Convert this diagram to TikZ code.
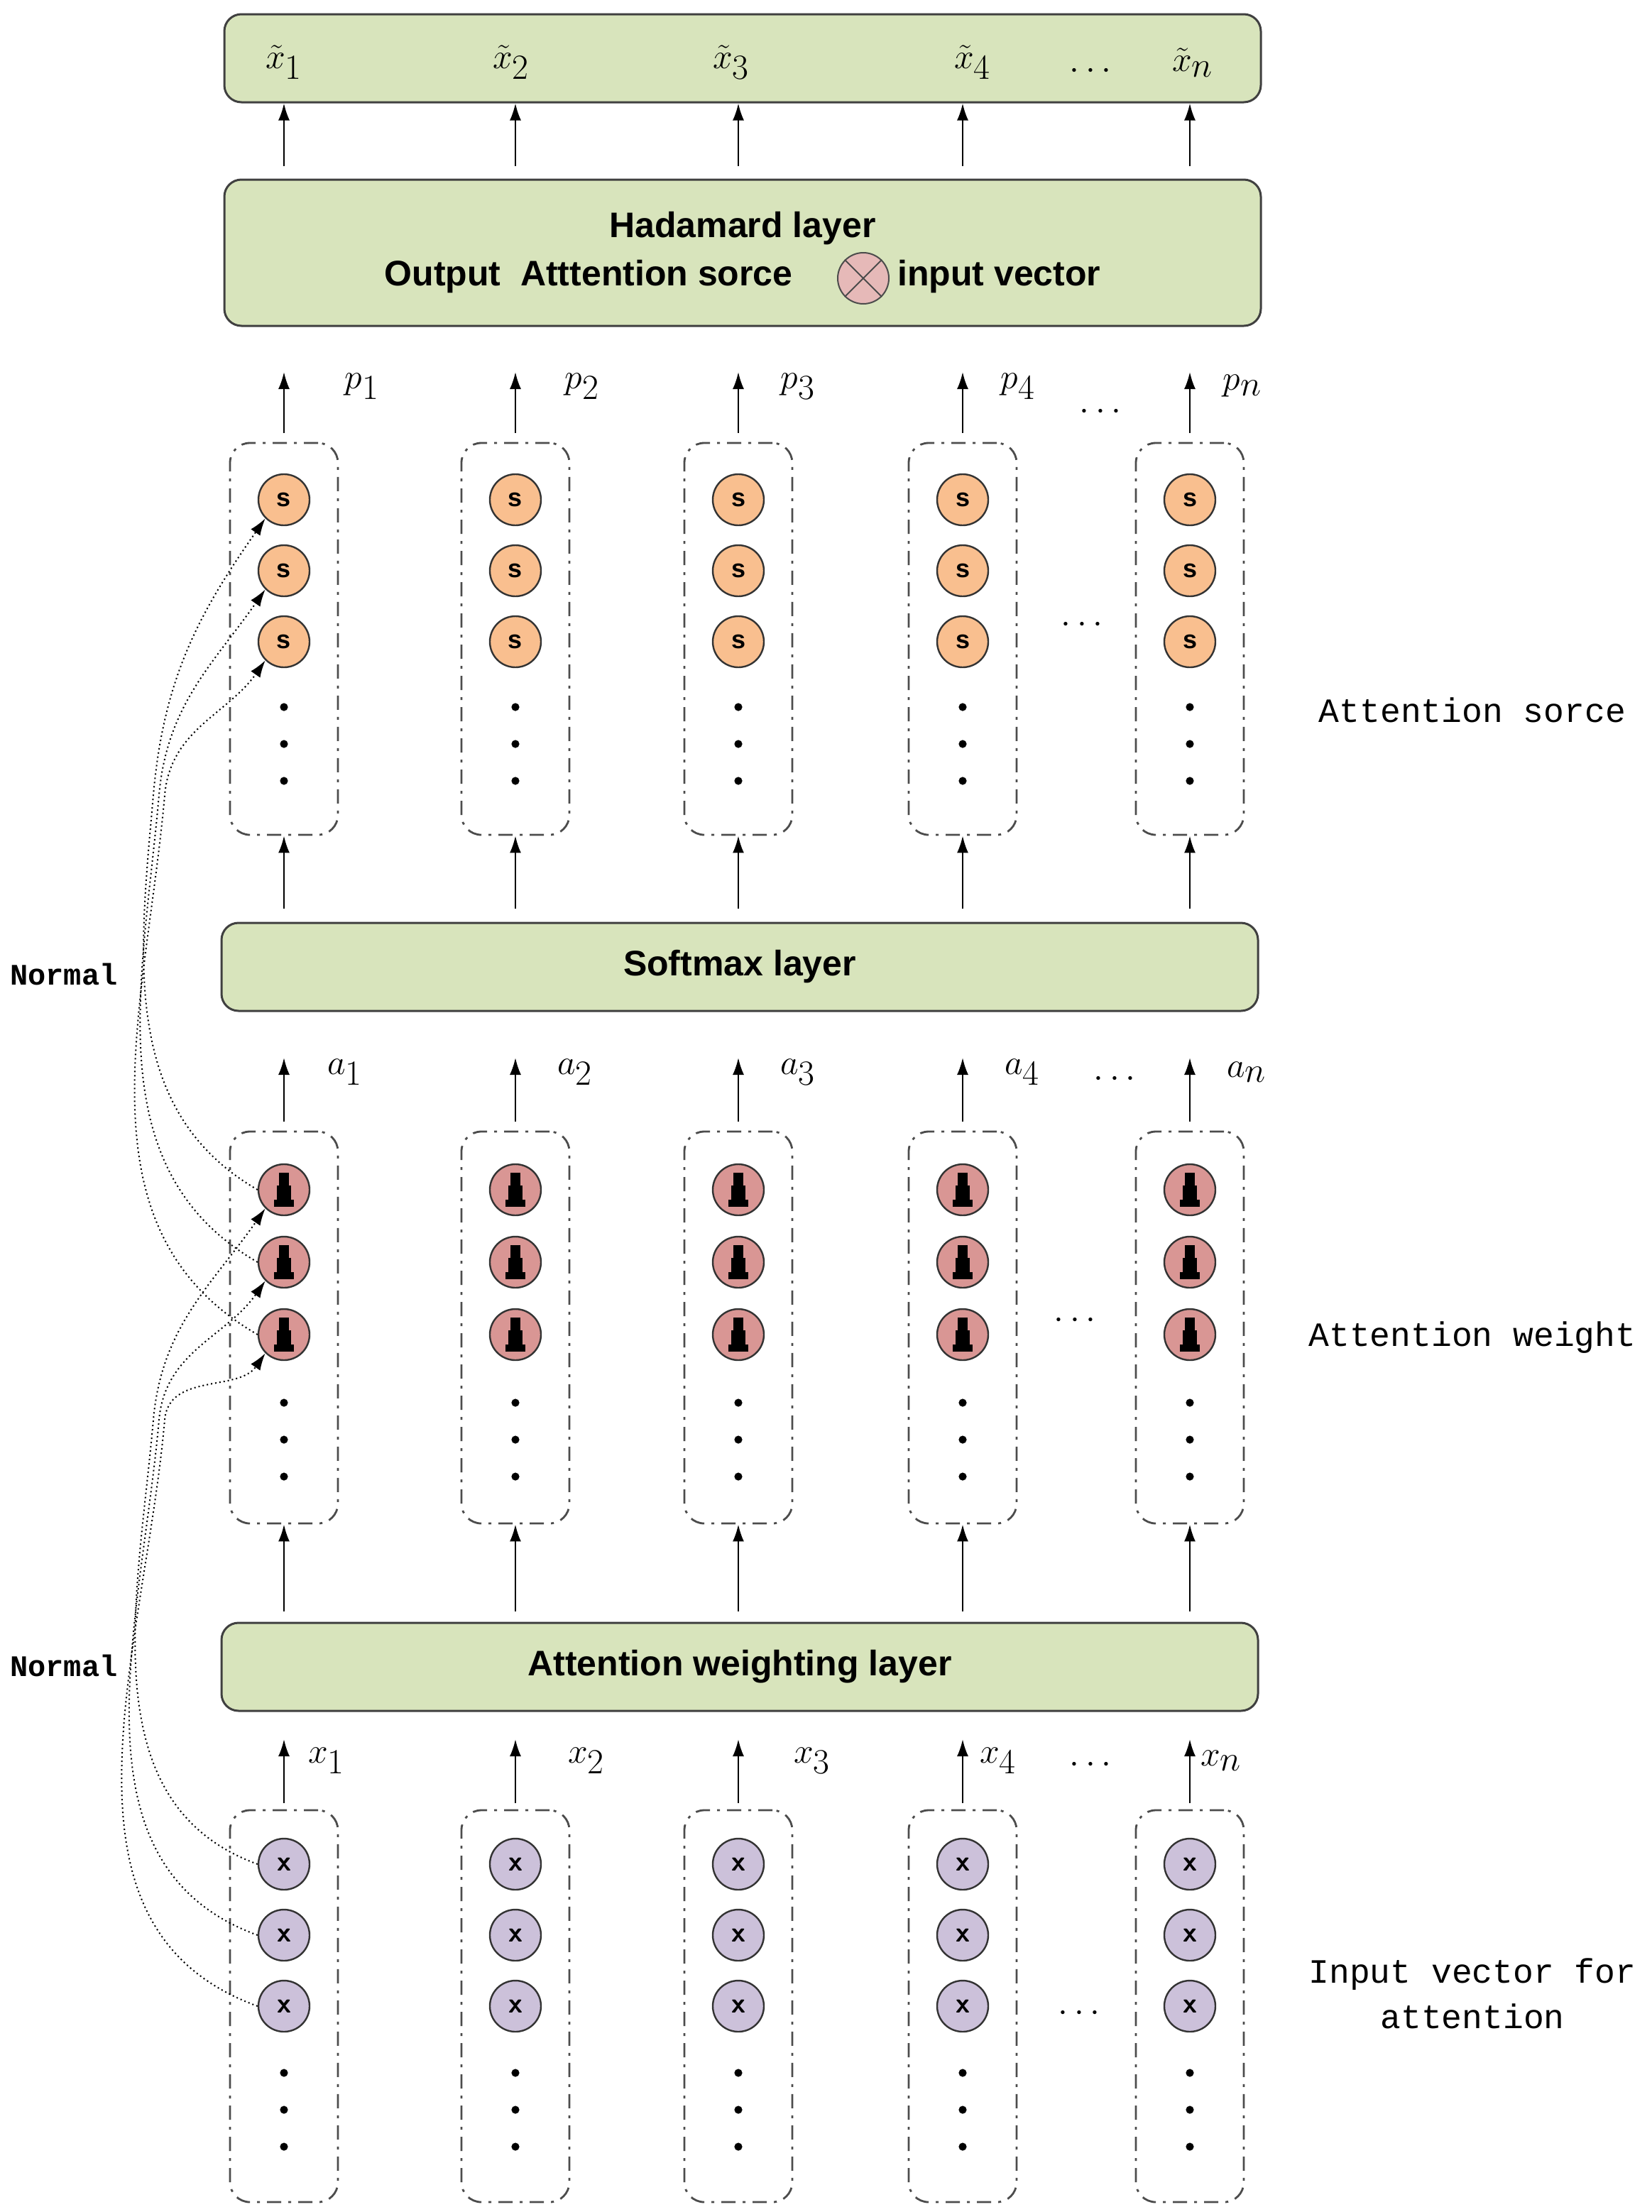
\documentclass[tikz,border=0pt]{standalone}
\usepackage{fontspec}
\setmainfont{Liberation Sans}
\newfontfamily\monofont{Liberation Mono}
\usetikzlibrary{arrows.meta,calc}
\definecolor{layergreen}{HTML}{D8E4BC}
\definecolor{sorange}{HTML}{F9BF8F}
\definecolor{wred}{HTML}{D99694}
\definecolor{xlilac}{HTML}{CCC1DA}
\definecolor{otpink}{HTML}{E6B9B8}
\tikzstyle{layer} = [draw=black!75, line width=1.5pt, fill=layergreen, rounded corners=12pt, minimum width=730pt, text centered, font=\fontsize{25}{30}\selectfont\bfseries]
\tikzstyle{column} = [draw=black!70, line width=1.4pt, dash pattern=on 10pt off 5pt on 2pt off 5pt, rounded corners=14pt, minimum width=76pt, minimum height=276pt]
\tikzstyle{unit} = [draw=black!80, line width=1.2pt, circle, minimum size=36pt, inner sep=0pt]
\tikzstyle{line} = [draw, line width=1.2pt, -{Latex[length=12pt,width=8pt]}]
\tikzstyle{link} = [draw, line width=1pt, dotted, -{Latex[length=12pt,width=8pt]}]
\tikzstyle{side} = [font=\monofont\fontsize{24}{32}\selectfont, align=center]
\tikzstyle{lbl} = [font=\fontsize{40}{40}\selectfont]
\newcommand{\keyhole}[1]{\fill ($(#1)+(-7pt,-12pt)$) rectangle ($(#1)+(7pt,-7pt)$);
  \fill ($(#1)+(-5pt,-7pt)$) rectangle ($(#1)+(5pt,3pt)$);
  \fill ($(#1)+(-3.5pt,3pt)$) rectangle ($(#1)+(3.5pt,12pt)$);}
\newcommand{\vdotsat}[2]{\foreach \yy in {0,26,52} \fill ($(#1)+(0,#2+\yy)$) circle (2.8pt);}
\begin{document}
\begin{tikzpicture}[x=1pt, y=-1pt]
\useasboundingbox (0,0) rectangle (1163,1558);
% layers
\node[layer, minimum height=62pt] (out) at (523,41) {};
\node[layer, minimum height=103pt, align=center] (hada) at (523,178) {Hadamard layer\\[4pt]
  Output\ \ Atttention sorce \hspace{60pt} input vector};
\node[draw=black!70, line width=1pt, circle, fill=otpink, minimum size=36pt] (otimes) at (608,196) {};
\draw[black!70, line width=1pt] (otimes.north west) -- (otimes.south east) (otimes.north east) -- (otimes.south west);
\node[layer, minimum height=62pt] (soft) at (521,681) {Softmax layer};
\node[layer, minimum height=62pt] (weig) at (521,1174) {Attention weighting layer};
% columns
\foreach \x [count=\i] in {200,363,520,678,838} {
  \node[column] (sc\i) at (\x,450) {};
  \node[column] (wc\i) at (\x,935) {};
  \node[column] (xc\i) at (\x,1413) {};
  \foreach \y [count=\j] in {352,402,452} \node[unit, fill=sorange] (s\i\j) at (\x,\y) {\fontsize{18}{20}\selectfont\bfseries s};
  \foreach \y [count=\j] in {838,889,940} {\node[unit, fill=wred] (w\i\j) at (\x,\y) {}; \keyhole{w\i\j}}
  \foreach \y [count=\j] in {1313,1363,1413} \node[unit, fill=xlilac] (x\i\j) at (\x,\y) {\fontsize{20}{20}\selectfont\bfseries\sffamily x};
  \vdotsat{sc\i.center}{48}
  \vdotsat{wc\i.center}{53}
  \vdotsat{xc\i.center}{47}
  \coordinate (ot\i) at (\x,117);
  \coordinate (pb\i) at (\x,305);
  \coordinate (pt\i) at (\x,262);
  \coordinate (sb\i) at (\x,640);
  \coordinate (ab\i) at (\x,790);
  \coordinate (at\i) at (\x,745);
  \coordinate (wb\i) at (\x,1135);
  \coordinate (xb\i) at (\x,1270);
  \coordinate (xt\i) at (\x,1225);
  \path[line] (ot\i) -- (ot\i |- out.south);
  \path[line] (pb\i) -- (pt\i);
  \path[line] (sb\i) -- (sc\i.south);
  \path[line] (ab\i) -- (at\i);
  \path[line] (wb\i) -- (wc\i.south);
  \path[line] (xb\i) -- (xt\i);
}
% output labels
\foreach \x/\k in {200/1,360/2,515/3,685/4,840/n} \node[lbl, font=\fontsize{34}{34}\selectfont] (tx\k) at (\x,44) {$\tilde{x}_{\k}$};
\foreach \x/\k in {255/1,410/2,562/3,717/4,875/n} \node[lbl] (p\k) at (\x,272) {$p_{\k}$};
\foreach \x/\k in {243/1,405/2,562/3,720/4,878/n} \node[lbl] (a\k) at (\x,755) {$a_{\k}$};
\foreach \x/\k in {230/1,413/2,572/3,703/4,860/n} \node[lbl] (xl\k) at (\x,1240) {$x_{\k}$};
\foreach \x/\y in {768/50,775/290,762/440,785/760,757/930,768/1243,760/1418}
  \node[lbl] at (\x,\y) {$\cdots$};
% side labels
\node[side] (lsorce) at (1037,500) {Attention sorce};
\node[side] (lweight) at (1037,942) {Attention weight};
\node[side] (linput) at (1037,1404) {Input vector for\\attention};
\node[side, font=\monofont\bfseries\fontsize{21}{26}\selectfont] (norm1) at (45,686) {Normal};
\node[side, font=\monofont\bfseries\fontsize{21}{26}\selectfont] (norm2) at (45,1173) {Normal};
% normalisation links
\foreach \j/\o in {1/0,2/4,3/8} {
  \path[link] (x1\j.west) to[out=160, in=-95] (108+\o,1000) to[out=85, in=-125] (w1\j.south west);
  \path[link] (w1\j.west) to[out=150, in=-95] (108+\o,560) to[out=85, in=-125] (s1\j.south west);
}
\end{tikzpicture}
\end{document}
